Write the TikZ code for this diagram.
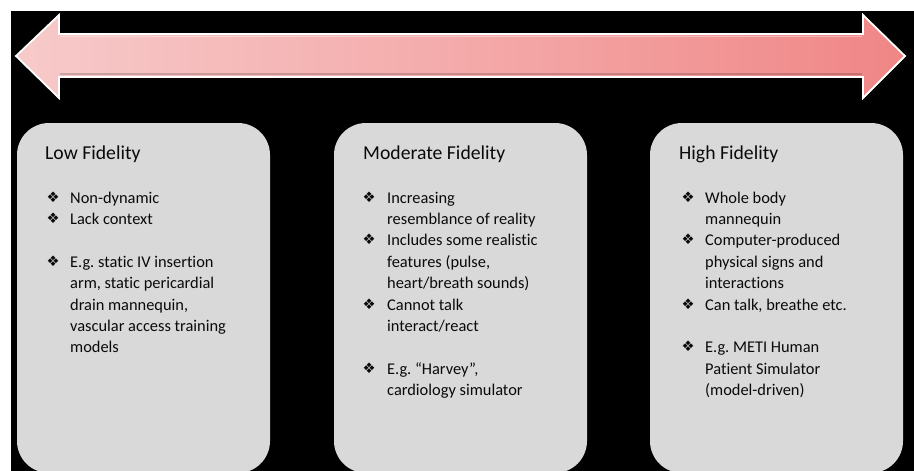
\documentclass[tikz,border=0pt]{standalone}
\usepackage{fontspec}
\setmainfont{Carlito}[Ligatures={NoCommon}]
\newfontfamily\symfont{DejaVu Sans}
\frenchspacing
\definecolor{boxgray}{HTML}{D9D9D9}
\definecolor{arrowL}{HTML}{F7CACA}
\definecolor{arrowM}{HTML}{F4AAAA}
\definecolor{arrowR}{HTML}{F08686}
\definecolor{txt}{HTML}{0A0A0A}
\begin{document}
\begin{tikzpicture}[x=1pt,y=-1pt,
  panel/.style={fill=boxgray, draw=none, rounded corners=32pt, minimum width=253pt, minimum height=350pt, inner sep=0pt},
  ttl/.style={anchor=base west, inner sep=0pt, text=txt, font=\fontsize{19.7}{23}\selectfont},
  ln/.style={anchor=base west, inner sep=0pt, text=txt, font=\fontsize{16.4}{20}\selectfont},
  bul/.style={anchor=base west, inner sep=0pt, text=txt, font=\symfont\fontsize{14.5}{16}\selectfont}]
\useasboundingbox (0,0) rectangle (914,471);
\fill[white] (0,0) rectangle (914,471);
\fill[black] (11,11) rectangle (914,471);
% arrow
\shadedraw[left color=arrowL, right color=arrowR, middle color=arrowM, draw=white, line width=1.8pt, line join=miter]
  (16,56) -- (59,15) -- (59,34) -- (863,34) -- (863,15) -- (905,56) -- (863,98) -- (863,77) -- (59,77) -- (59,98) -- cycle;
\draw[white, opacity=0.35, line width=1.5pt] (60,36.5) -- (862,36.5);
\draw[black, opacity=0.18, line width=2pt] (60,74) -- (862,74);
% panels
\begin{scope}
\clip (11,11) rectangle (914,471);
\node[panel] (lowbox) at (143.5,298) {};
\node[panel] (modbox) at (460.5,298) {};
\node[panel] (highbox) at (776.5,298) {};
\end{scope}
% titles
\node[ttl] (lowt) at (45,159) {Low Fidelity};
\node[ttl] (modt) at (363,159) {Moderate Fidelity};
\node[ttl] (hight) at (679,159) {High Fidelity};
% low fidelity lines
\foreach \k/\b/\t [count=\i] in {0/1/Non-dynamic, 1/1/Lack context, 3/1/E.g. static IV insertion, 4/0/{arm, static pericardial}, 5/0/{drain mannequin,}, 6/0/vascular access training, 7/0/models}{
  \node[ln] (low\i) at (70,203+21.4*\k) {\t};
  \ifnum\b=1 \node[bul] (lowb\i) at (46.5,202+21.4*\k) {❖}; \fi
}
% moderate fidelity lines
\foreach \k/\b/\t [count=\i] in {0/1/Increasing, 1/0/resemblance of reality, 2/1/Includes some realistic, 3/0/{features (pulse,}, 4/0/{heart/breath sounds)}, 5/1/Cannot talk, 6/0/{interact/react}, 8/1/{E.g. “Harvey”,}, 9/0/cardiology simulator}{
  \node[ln] (mod\i) at (387,203+21.4*\k) {\t};
  \ifnum\b=1 \node[bul] (modb\i) at (362.5,202+21.4*\k) {❖}; \fi
}
% high fidelity lines
\foreach \k/\b/\t [count=\i] in {0/1/Whole body, 1/0/mannequin, 2/1/Computer-produced, 3/0/physical signs and, 4/0/interactions, 5/1/{Can talk, breathe etc.}, 7/1/E.g. METI Human, 8/0/Patient Simulator, 9/0/(model-driven)}{
  \node[ln] (high\i) at (705,203+21.4*\k) {\t};
  \ifnum\b=1 \node[bul] (highb\i) at (681.5,202+21.4*\k) {❖}; \fi
}
\end{tikzpicture}
\end{document}
